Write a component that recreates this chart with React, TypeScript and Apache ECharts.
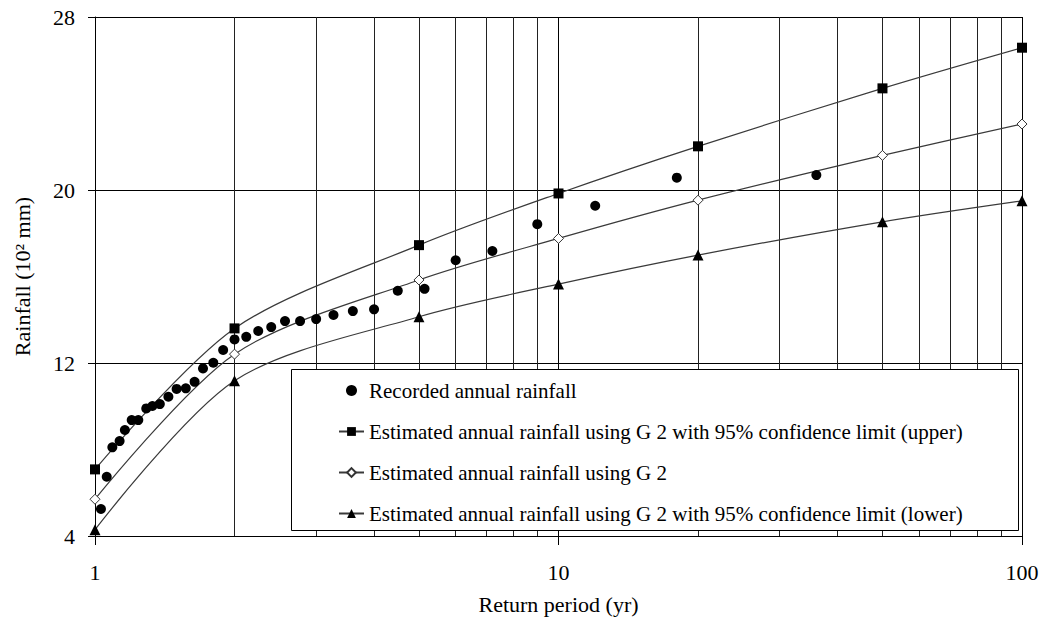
import React, { useEffect, useRef } from "react";
import * as echarts from "echarts";

// Recorded annual rainfall (return period in years, rainfall in 10^2 mm)
const recordedPeriod = [
  1.03, 1.06, 1.09, 1.13, 1.16, 1.2, 1.24, 1.29, 1.33, 1.38, 1.44, 1.5, 1.57,
  1.64, 1.71, 1.8, 1.89, 2, 2.12, 2.25, 2.4, 2.57, 2.77, 3, 3.27, 3.6, 4, 4.5,
  5.14, 6, 7.2, 9, 12, 18, 36,
];
const recordedRainfall = [
  5.25, 6.74, 8.1, 8.39, 8.9, 9.36, 9.36, 9.9, 10.01, 10.1, 10.44, 10.8, 10.83,
  11.13, 11.75, 12.01, 12.6, 13.09, 13.21, 13.48, 13.66, 13.94, 13.94, 14.03,
  14.22, 14.4, 14.48, 15.34, 15.43, 16.75, 17.18, 18.42, 19.27, 20.57, 20.69,
];

// Estimated annual rainfall using G 2
const estimatedPeriod = [1, 2, 5, 10, 20, 50, 100];
const upperLimit = [7.08, 13.6, 17.45, 19.84, 22.02, 24.7, 26.58];
const estimatedRainfall = [5.7, 12.41, 15.84, 17.76, 19.53, 21.6, 23.05];
const lowerLimit = [4.29, 11.18, 14.14, 15.65, 16.99, 18.53, 19.5];

// Axis settings
const yMin = 4;
const yMax = 28;
const yInterval = 8;
const xMin = 1;
const xMax = 100;
const minorGridPeriods = [2, 3, 4, 5, 6, 7, 8, 9, 20, 30, 40, 50, 60, 70, 80, 90];

const seriesNames = [
  "Recorded annual rainfall",
  "Estimated annual rainfall using G 2 with 95% confidence limit (upper)",
  "Estimated annual rainfall using G 2",
  "Estimated annual rainfall using G 2 with 95% confidence limit (lower)",
];

const FONT = '"Liberation Serif", "Times New Roman", Times, serif';
const LINE_COLOR = "#3a3a3a";

const pair = (xs: number[], ys: number[]) => xs.map((x, i) => [x, ys[i]]);

export default function App() {
  const ref = useRef<HTMLDivElement>(null);

  useEffect(() => {
    document.body.style.margin = "0";
    const chart = echarts.init(ref.current!, null, { renderer: "svg" });
    const smooth = 0.3;
    chart.setOption({
      animation: false,
      backgroundColor: "#ffffff",
      grid: { left: 95, right: 25, top: 17, bottom: 90, containLabel: false },
      xAxis: {
        type: "log",
        logBase: 10,
        min: xMin,
        max: xMax,
        name: "Return period (yr)",
        nameLocation: "middle",
        nameGap: 57,
        nameTextStyle: { fontFamily: FONT, fontSize: 22, color: "#000" },
        axisLine: { lineStyle: { color: "#000", width: 1 } },
        axisTick: { show: true, length: 9, lineStyle: { color: "#000" } },
        axisLabel: { margin: 25, fontFamily: FONT, fontSize: 22, color: "#000" },
        splitLine: { show: true, lineStyle: { color: "#000", width: 1 } },
        minorTick: { show: false },
        minorSplitLine: { show: false },
      },
      yAxis: {
        type: "value",
        min: yMin,
        max: yMax,
        interval: yInterval,
        name: "Rainfall (10² mm)",
        nameLocation: "middle",
        nameGap: 62,
        nameRotate: 90,
        nameTextStyle: { fontFamily: FONT, fontSize: 22, color: "#000" },
        axisLine: { show: true, lineStyle: { color: "#000", width: 1 } },
        axisTick: { show: true, length: 7, lineStyle: { color: "#000" } },
        axisLabel: { margin: 20, fontFamily: FONT, fontSize: 22, color: "#000" },
        splitLine: { show: true, lineStyle: { color: "#000", width: 1 } },
      },
      legend: {
        orient: "vertical",
        left: 338,
        top: 380,
        padding: 0,
        itemWidth: 25,
        itemHeight: 11,
        itemGap: 20,
        z: 6,
        textStyle: { fontFamily: FONT, fontSize: 21, color: "#000", lineHeight: 20 },
        data: seriesNames,
      },
      graphic: [
        {
          type: "rect",
          left: 291,
          top: 369,
          z: 1,
          shape: { width: 727, height: 161 },
          style: { fill: "#ffffff", stroke: "#000", lineWidth: 1 },
        },
      ],
      series: [
        {
          name: "minor-grid",
          type: "line",
          data: [],
          silent: true,
          z: 0,
          markLine: {
            z: 0,
            silent: true,
            symbol: ["none", "none"],
            label: { show: false },
            lineStyle: { color: "#222", width: 1, type: "solid" },
            data: minorGridPeriods.map((p) => ({ xAxis: p })),
          },
        },
        {
          name: seriesNames[0],
          type: "scatter",
          symbol: "circle",
          symbolSize: 10,
          itemStyle: { color: "#000", opacity: 1 },
          z: 3,
          data: pair(recordedPeriod, recordedRainfall),
        },
        {
          name: seriesNames[1],
          type: "line",
          smooth,
          symbol: "rect",
          symbolSize: 10,
          showAllSymbol: true,
          itemStyle: { color: "#000" },
          lineStyle: { color: LINE_COLOR, width: 1.2 },
          z: 3,
          data: pair(estimatedPeriod, upperLimit),
        },
        {
          name: seriesNames[2],
          type: "line",
          smooth,
          symbol: "diamond",
          symbolSize: 10,
          showAllSymbol: true,
          itemStyle: { color: "#fff", borderColor: "#333", borderWidth: 1 },
          lineStyle: { color: LINE_COLOR, width: 1.2 },
          z: 3,
          data: pair(estimatedPeriod, estimatedRainfall),
        },
        {
          name: seriesNames[3],
          type: "line",
          smooth,
          symbol: "triangle",
          symbolSize: 11,
          showAllSymbol: true,
          itemStyle: { color: "#000" },
          lineStyle: { color: LINE_COLOR, width: 1.2 },
          z: 3,
          data: pair(estimatedPeriod, lowerLimit),
        },
      ],
    });
    return () => chart.dispose();
  }, []);

  return <div ref={ref} style={{ width: 1047, height: 626 }} />;
}
